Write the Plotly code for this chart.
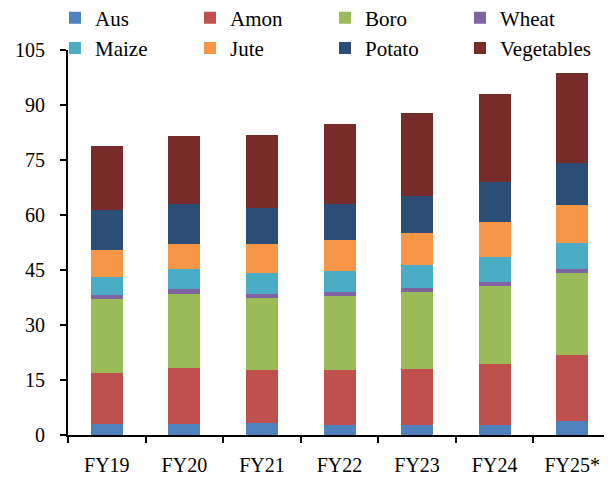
import plotly.graph_objects as go

categories = ["FY19", "FY20", "FY21", "FY22", "FY23", "FY24", "FY25*"]
aus = [2.9, 2.9, 3.2, 2.8, 2.8, 2.8, 3.7]
amon = [13.9, 15.5, 14.4, 15.0, 15.3, 16.6, 18.0]
boro = [20.4, 20.1, 19.9, 20.1, 20.9, 21.2, 22.6]
wheat = [1.1, 1.4, 1.0, 1.1, 1.1, 1.1, 1.1]
maize = [4.9, 5.4, 5.7, 5.7, 6.2, 6.8, 7.0]
jute = [7.3, 6.8, 7.9, 8.4, 8.7, 9.5, 10.3]
potato = [10.9, 11.0, 9.8, 10.0, 10.3, 10.9, 11.4]
vegetables = [17.3, 18.4, 19.8, 21.8, 22.6, 24.2, 24.7]
y_ticks = [0, 15, 30, 45, 60, 75, 90, 105]

series = [
    ("Aus", aus, "#4F81BD"),
    ("Amon", amon, "#C0504D"),
    ("Boro", boro, "#9BBB59"),
    ("Wheat", wheat, "#8064A2"),
    ("Maize", maize, "#4BACC6"),
    ("Jute", jute, "#F79646"),
    ("Potato", potato, "#2C4D75"),
    ("Vegetables", vegetables, "#772C2A"),
]

fig = go.Figure()
for name, vals, color in series:
    fig.add_trace(go.Bar(x=categories, y=vals, name=name, marker_color=color,
                         marker_line_width=0))

font = dict(family="Liberation Serif, Times New Roman, serif", size=20, color="black")
legend_font = dict(family="Liberation Serif, Times New Roman, serif", size=21, color="black")
fig.update_layout(
    width=612, height=483,
    barmode="stack", bargap=0.5875,
    paper_bgcolor="white", plot_bgcolor="white",
    margin=dict(l=60, r=9, t=42, b=55.5, autoexpand=False),
    font=font,
    showlegend=True,
    legend=dict(orientation="h", x=0.9705, xanchor="right", y=1.136, yanchor="top",
                entrywidth=90, entrywidthmode="pixels", traceorder="normal",
                font=legend_font, tracegroupgap=0, bgcolor="rgba(0,0,0,0)"),
)
fig.update_xaxes(showline=True, linecolor="black", linewidth=2, ticks="outside",
                 tickson="boundaries", ticklen=6, tickwidth=2, tickcolor="black",
                 showgrid=False, ticklabelstandoff=11)
fig.update_yaxes(range=[0, 105], tickvals=y_ticks, showline=True, linecolor="black",
                 linewidth=2, ticks="outside", ticklen=6, tickwidth=2, tickcolor="black",
                 showgrid=False, zeroline=False, ticklabelstandoff=11)
fig.write_html("out.html")
